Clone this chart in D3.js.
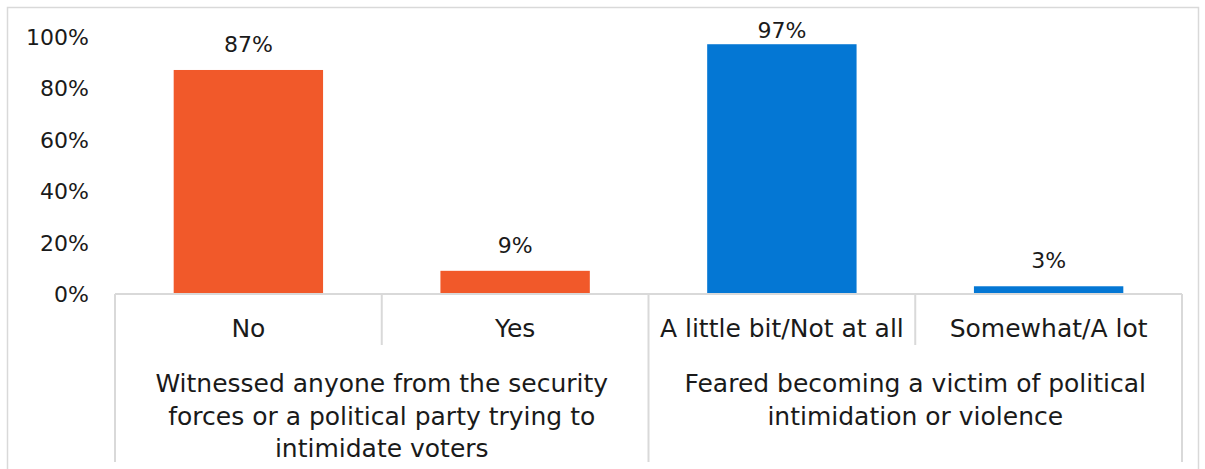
<!DOCTYPE html>
<html>
<head>
<meta charset="utf-8">
<script src="https://cdn.jsdelivr.net/npm/d3@7"></script>
<style>
  body { margin: 0; background: #fff; }
  svg text { font-family: "DejaVu Sans", sans-serif; fill: #1a1a1a; }
</style>
</head>
<body>
<div class="chart"></div>
<script>
// data
const categories = ['No', 'Yes', 'A little bit/Not at all', 'Somewhat/A lot'];
const values = [87, 9, 97, 3];
const groupOf = [0, 0, 1, 1];
const groups = [
  ['Witnessed anyone from the security', 'forces or a political party trying to', 'intimidate voters'],
  ['Feared becoming a victim of political', 'intimidation or violence']
];
const groupColors = ['#f1592a', '#0477d4'];
const yTicks = [0, 20, 40, 60, 80, 100];

const w = 1205, h = 469;
const margin = {top: 36.5, right: 23, bottom: 175, left: 115};

const svg = d3.select('.chart').append('svg')
  .attr('width', w)
  .attr('height', h);

// outer frame
svg.append('rect')
  .attr('x', 7.5).attr('y', 7.5)
  .attr('width', 1191).attr('height', 480)
  .attr('fill', 'none')
  .attr('stroke', '#d9d9d9')
  .attr('stroke-width', 1.5);

const x = d3.scaleBand()
  .domain(categories)
  .range([margin.left, w - margin.right])
  .paddingInner(0.44)
  .paddingOuter(0.22);

const y = d3.scaleLinear()
  .domain([0, 100])
  .range([h - margin.bottom, margin.top]);

const base = y(0);
const step = x.step();
const x0 = margin.left, x1 = w - margin.right;
const numFs = 22, txtFs = 25;

// y tick labels
svg.append('g')
  .attr('class', 'y axis')
  .attr('transform', 'translate(89,0)')
  .call(d3.axisLeft(y).tickValues(yTicks).tickSize(0).tickPadding(0).tickFormat(d => d + '%'))
  .call(g => g.select('.domain').remove())
  .selectAll('text')
  .style('font-size', numFs + 'px')
  .attr('dy', '0.36em');

// bars
svg.selectAll('.bar')
  .data(values)
  .enter().append('rect')
  .attr('class', 'bar')
  .attr('x', (d, i) => x(categories[i]))
  .attr('y', d => y(d))
  .attr('width', x.bandwidth())
  .attr('height', d => base - y(d))
  .attr('fill', (d, i) => groupColors[groupOf[i]]);

// value labels
svg.selectAll('.val')
  .data(values)
  .enter().append('text')
  .attr('class', 'val')
  .attr('x', (d, i) => x(categories[i]) + x.bandwidth() / 2)
  .attr('y', d => Math.max(y(d) - 18, margin.top + 1.5))
  .attr('text-anchor', 'middle')
  .style('font-size', numFs + 'px')
  .text(d => d + '%');

// category axis lines
const grid = svg.append('g').attr('stroke', '#d9d9d9').attr('stroke-width', 2);
grid.append('line').attr('x1', x0).attr('x2', x1).attr('y1', base).attr('y2', base);
[0, 2, 4].forEach(i => {
  grid.append('line')
    .attr('x1', x0 + i * step).attr('x2', x0 + i * step)
    .attr('y1', base).attr('y2', 462);
});
[1, 3].forEach(i => {
  grid.append('line')
    .attr('x1', x0 + i * step).attr('x2', x0 + i * step)
    .attr('y1', base).attr('y2', 345);
});

// category labels
svg.selectAll('.cat')
  .data(categories)
  .enter().append('text')
  .attr('class', 'cat')
  .attr('x', d => x(d) + x.bandwidth() / 2)
  .attr('y', 337)
  .attr('text-anchor', 'middle')
  .style('font-size', txtFs + 'px')
  .text(d => d);

// group labels
groups.forEach((lines, gi) => {
  const cx = x0 + (gi * 2 + 1) * step;
  svg.append('text')
    .attr('text-anchor', 'middle')
    .style('font-size', txtFs + 'px')
    .selectAll('tspan')
    .data(lines)
    .enter().append('tspan')
    .attr('x', cx)
    .attr('y', (d, i) => 392 + i * 32.5)
    .text(d => d);
});
</script>
</body>
</html>
